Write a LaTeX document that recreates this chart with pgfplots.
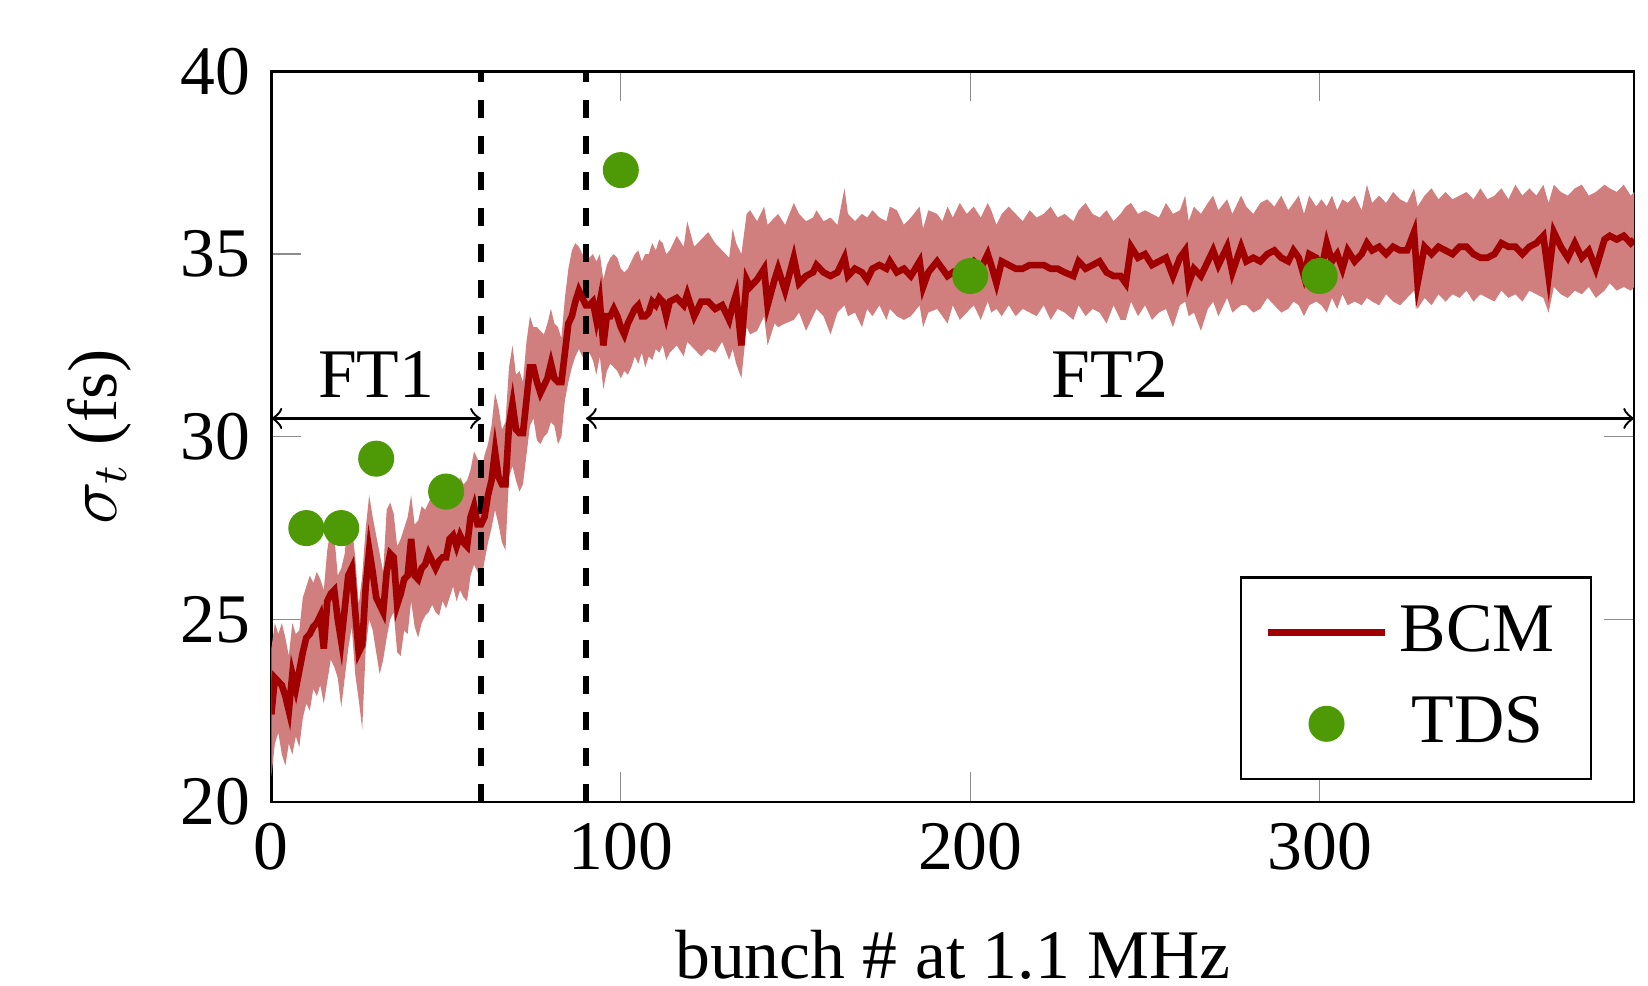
\documentclass[border=0pt]{standalone}
\usepackage{fontspec}
\setmainfont{Liberation Serif}
\usepackage{pgfplots}
\pgfplotsset{compat=1.18}
\usepgfplotslibrary{fillbetween}
\usepackage{pgfplotstable}

\definecolor{bcmline}{RGB}{160,0,0}
\definecolor{bcmband}{RGB}{208,126,126}
\definecolor{tdsgreen}{RGB}{77,154,6}

\pgfplotsset{
  longline legend/.style={legend image code/.code={%
    \draw[##1] (0cm,0cm) -- (0.68cm,0cm);}},
  longmark legend/.style={legend image code/.code={%
    \draw[mark repeat=2, mark phase=2, ##1]
      plot coordinates {(0cm,0cm) (0.34cm,0cm) (0.68cm,0cm)};}},
}

% bunch, mean, lower, upper
\pgfplotstableread{
x m lo hi
0 22.4 20.7 24.2
1 23.4 21.6 24.9
2 23.3 21.9 24.6
3 23.2 21.3 24.9
4 22.9 21.0 24.5
5 22.5 21.6 24.0
6 23.5 21.3 24.9
7 23.1 21.8 24.6
8 23.6 21.5 24.7
9 24.1 22.3 25.6
10 24.5 22.7 25.9
11 24.6 22.5 26.2
12 24.8 23.1 26.0
13 24.9 22.9 26.3
14 25.1 23.2 26.1
15 24.2 22.7 25.8
16 25.5 23.3 26.9
17 25.7 23.9 27.5
18 25.8 23.7 27.3
19 25.0 23.4 26.2
20 24.4 22.6 26.4
21 25.3 23.4 26.8
22 26.2 24.2 27.9
23 26.4 24.8 27.6
24 25.2 23.5 26.7
25 24.1 22.8 25.4
26 24.3 22.0 26.2
27 25.9 24.2 27.5
28 26.9 25.0 28.4
29 26.3 24.7 27.8
30 25.6 24.1 27.3
31 25.4 23.5 26.8
32 25.2 23.9 26.3
33 26.3 24.5 28.0
34 26.8 25.0 28.2
35 26.7 25.2 27.9
36 25.4 24.1 27.0
37 25.7 24.0 27.2
38 26.1 24.7 27.5
39 26.2 24.6 27.8
40 27.2 25.5 28.4
41 26.2 24.8 27.6
42 26.1 24.5 27.7
43 26.4 24.9 28.1
44 26.5 25.1 28.0
45 26.8 25.2 28.2
46 26.6 25.4 28.4
47 26.4 25.2 28.3
48 26.6 25.1 28.2
49 26.7 25.5 28.1
50 26.7 25.3 28.3
51 27.2 25.6 28.6
52 27.3 25.9 28.8
53 27.0 25.5 28.5
54 27.3 25.8 28.9
55 27.1 25.6 28.7
56 27.0 25.5 28.8
57 27.8 26.2 29.1
58 28.1 26.5 29.6
59 27.6 26.3 29.4
60 27.6 26.0 29.0
61 27.8 26.6 29.5
62 28.4 27.1 29.8
63 28.8 27.5 30.3
64 29.6 28.0 31.2
65 28.9 27.6 30.8
66 28.7 27.1 30.2
67 28.7 26.9 30.4
68 30.3 28.9 31.9
69 30.9 29.2 32.5
70 30.2 28.8 31.7
71 30.1 28.5 31.8
72 30.1 28.7 31.5
73 31.0 29.5 32.6
74 31.9 30.3 33.3
75 31.9 30.5 33.0
76 31.5 29.9 33.0
77 31.2 29.8 32.9
78 31.4 30.0 32.8
79 31.6 30.1 33.1
80 32.0 30.4 33.5
81 31.6 30.3 33.1
82 31.5 29.8 33.0
83 31.5 30.0 32.7
84 32.3 31.0 33.8
85 33.1 31.5 34.6
86 33.3 31.9 35.1
87 33.7 32.2 35.3
88 34.0 32.4 35.2
89 33.8 32.2 35.0
90 33.6 32.0 35.0
91 33.6 32.3 34.9
92 33.7 32.1 35.0
93 33.2 31.7 34.8
94 33.7 32.2 35.0
95 32.5 31.3 34.3
96 33.3 31.8 34.7
97 33.3 32.0 34.9
98 33.5 31.9 35.0
99 33.3 31.8 34.9
100 33.0 31.6 34.6
101 32.8 31.8 34.5
102 33.1 31.7 34.6
103 33.3 31.9 34.8
104 33.5 32.2 35.0
105 33.6 32.0 35.1
106 33.3 32.3 34.8
107 33.3 31.9 35.0
108 33.4 32.2 35.0
109 33.7 32.1 35.3
110 33.6 32.4 35.1
111 33.8 32.3 35.4
112 33.7 32.5 35.3
113 33.3 32.1 35.0
114 33.7 32.3 35.1
116 33.8 32.5 35.5
118 33.6 32.2 35.2
119 33.9 32.6 35.9
121 33.3 32.4 35.2
123 33.7 32.2 35.4
125 33.7 32.4 35.6
127 33.5 32.3 35.3
129 33.6 32.6 35.1
131 33.2 32.1 34.9
132 33.6 32.4 35.7
133 33.9 32.0 35.3
134.5 32.5 31.6 35.0
136 34.3 33.0 36.1
137 34.1 32.8 36.2
139 34.3 32.9 35.9
141 34.6 33.3 36.3
142 33.6 32.5 35.8
144 34.3 33.1 36.0
145 34.6 33.0 36.1
147 34.0 33.1 35.8
149.5 34.9 33.2 36.4
151 34.2 33.4 36.1
153 34.4 32.9 35.9
155 34.5 33.3 36.0
156 34.7 33.5 36.2
158 34.5 33.3 35.9
160 34.4 32.8 36.0
162 34.5 33.4 35.8
164 34.9 33.6 36.8
165 34.4 33.3 36.1
167 34.6 33.4 35.9
169 34.5 33.0 36.1
170.5 34.3 33.5 36.0
172 34.6 33.3 36.2
174 34.7 33.6 36.0
176 34.6 33.2 35.9
177 34.8 33.5 36.3
179 34.5 33.3 36.2
181 34.6 33.2 35.8
183 34.4 33.3 36.0
185.5 34.8 33.6 36.3
186.5 34.1 33.0 35.7
188 34.5 33.4 36.2
190.5 34.8 33.5 36.1
192 34.6 33.3 35.9
193.5 34.4 33.1 36.3
195 34.5 33.6 36.0
197 34.3 33.2 36.4
199 34.6 33.4 36.1
201 34.8 33.6 36.3
203 34.6 33.2 36.0
205 35.0 33.7 36.4
206 34.7 33.4 36.2
207.5 34.2 33.5 35.8
209 34.8 33.3 36.1
211 34.7 33.6 36.3
213 34.6 33.3 36.1
215 34.6 33.5 35.9
217 34.7 33.4 36.2
219 34.7 33.3 36.0
221 34.7 33.6 36.1
223 34.6 33.2 36.3
225 34.6 33.5 36.0
227 34.5 33.4 36.1
229.5 34.4 33.2 35.9
231 34.8 33.6 36.2
233 34.6 33.3 36.4
235 34.7 33.5 36.1
237 34.8 33.4 36.0
239 34.5 33.1 36.2
241 34.4 33.6 35.9
243 34.4 33.2 36.1
244.5 34.2 33.2 36.3
246 35.2 33.7 36.4
248 34.9 33.3 36.1
250 35.0 33.6 36.2
252 34.7 33.2 36.1
254 34.8 33.4 36.0
256 34.9 33.5 36.4
258 34.4 33.0 36.1
260 34.9 33.6 36.2
261.5 35.1 33.7 36.6
262.5 34.2 33.3 35.9
264 34.6 33.4 36.3
266 34.4 32.9 36.1
268 34.8 33.5 36.4
269.5 35.1 33.7 36.6
271 34.7 33.3 36.2
273.5 35.2 33.8 36.5
275 34.5 33.4 36.1
277.5 35.2 33.6 36.6
279 34.8 33.6 36.3
281 34.9 33.4 36.1
283 34.8 33.5 36.4
285 35.0 33.8 36.5
287 35.1 33.6 36.3
289 34.9 33.4 36.6
291 34.8 33.5 36.2
292.5 35.1 33.7 36.4
294 34.9 33.6 36.6
295.5 34.4 33.3 36.1
297 35.0 33.6 36.6
299 34.9 33.7 36.3
300.5 34.6 33.6 36.5
302 35.3 33.4 36.3
303.5 34.8 33.8 36.6
305 35.0 33.5 36.2
306.5 34.6 33.9 36.5
308 35.1 33.6 36.4
310 34.8 33.7 36.6
312 35.0 33.6 36.2
313.5 35.3 33.8 36.9
315 35.1 33.7 36.4
317 35.2 33.6 36.6
319 35.0 33.9 36.4
321 35.2 33.7 36.7
323 35.1 33.6 36.5
325 35.1 33.8 36.4
327 35.6 34.0 36.8
328 34.2 33.5 36.3
330 35.2 33.8 36.6
332 35.0 33.6 36.8
334 35.2 33.9 36.5
336 35.1 33.7 36.7
338 35.0 33.9 36.5
340 35.2 33.8 36.6
342 35.2 34.0 36.7
344 35.0 33.7 36.5
346 34.9 33.9 36.8
348 34.9 33.8 36.5
350 35.0 33.7 36.6
352 35.3 34.0 36.8
354 35.2 33.8 36.5
356 35.2 33.9 36.9
358 35.0 33.7 36.6
360 35.2 34.0 36.8
362 35.3 33.9 36.6
364 35.5 33.8 36.9
365.5 34.4 33.4 36.4
367 35.6 34.1 36.9
369 35.2 33.9 36.7
371 34.9 33.8 36.6
373 35.3 34.0 36.8
375 34.9 33.9 36.9
377 35.1 34.1 36.6
379 34.6 33.8 36.7
381.5 35.4 34.0 36.9
383 35.5 34.2 36.8
385 35.4 34.0 36.7
387 35.5 34.1 36.9
389 35.3 34.0 36.6
390 35.4 34.1 36.7
}\bcm

\pgfplotstableread{
x y
10 27.5
20 27.5
30 29.4
50 28.5
100 37.3
200 34.4
300 34.4
}\tds

\begin{document}
\begin{tikzpicture}[font=\fontsize{11.6}{14}\selectfont]
\begin{axis}[
  scale only axis,
  width=227pt, height=121.7pt,
  xmin=0, xmax=390,
  ymin=20, ymax=40,
  xtick={0,100,200,300},
  ytick={20,25,30,35,40},
  major tick length=5pt,
  tick style={black!45},
  /pgf/number format/assume math mode=true,
  xlabel={bunch \# at 1.1 MHz},
  ylabel={$\sigma_t$ (fs)},
  xlabel style={yshift=-5.4pt, inner sep=1pt},
  ylabel style={yshift=1.4pt},
  legend cell align=center,
  legend style={at={(axis description cs:0.969,0.03)}, anchor=south east,
    draw=black, row sep=2pt, inner xsep=4pt, inner ysep=2.6pt},
  clip mode=individual,
]
  \addplot[name path=hi, draw=none, forget plot] table[x=x, y=hi]{\bcm};
  \addplot[name path=lo, draw=none, forget plot] table[x=x, y=lo]{\bcm};
  \addplot[fill=bcmband, draw=none, forget plot] fill between[of=hi and lo];

  \draw[black, line width=0.9pt, dashed] (axis cs:60,20) -- (axis cs:60,40);
  \draw[black, line width=0.9pt, dashed] (axis cs:90,20) -- (axis cs:90,40);
  \draw[<->, black, thin] (axis cs:0,30.5) -- node[above] {FT1} (axis cs:60,30.5);
  \draw[<->, black, thin] (axis cs:90,30.5) -- node[above] {FT2} (axis cs:390,30.5);

  \addplot[bcmline, line width=1.1pt, longline legend] table[x=x, y=m]{\bcm};
  \addlegendentry{BCM}
  \addplot[only marks, mark=*, mark size=2.8pt, tdsgreen, longmark legend]
    table[x=x, y=y]{\tds};
  \addlegendentry{TDS}
\end{axis}
\path ([xshift=-45.2pt,yshift=-30.3pt]current axis.south west)
  rectangle ([xshift=2.3pt,yshift=11.9pt]current axis.north east);
\end{tikzpicture}
\end{document}
